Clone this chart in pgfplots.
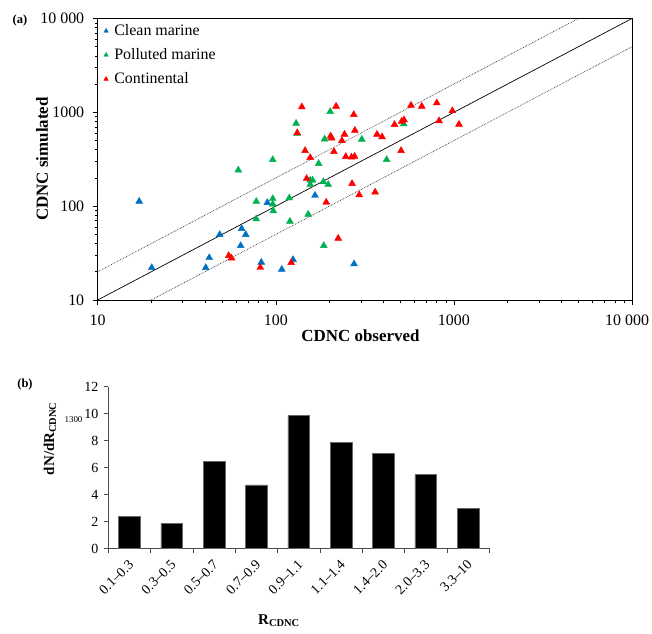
\documentclass[border=0pt]{standalone}
\usepackage{fontspec}
\setmainfont{Liberation Serif}
\usepackage{pgfplots}
\pgfplotsset{compat=1.18}

\definecolor{cleanblue}{HTML}{0070C0}
\definecolor{pollgreen}{HTML}{00B050}
\definecolor{contred}{HTML}{FF0000}

\newcommand{\ticksize}{\fontsize{16}{18}\selectfont}
\newcommand{\bticksize}{\fontsize{14}{16}\selectfont}

\begin{document}
\begin{tikzpicture}[x=1bp,y=1bp]
\path[use as bounding box] (0,0) rectangle (652,634);

% (a) simulated against observed CDNC
\begin{axis}[
  at={(97.7bp,334bp)}, anchor=south west,
  scale only axis, width=534.3bp, height=281.5bp,
  xmode=log, ymode=log,
  xmin=10, xmax=10000, ymin=10, ymax=10000,
  xtick={10,100,1000,10000}, ytick={10,100,1000,10000},
  xticklabels={10,100,1000,\makebox[0pt][r]{10\ 000\hspace{-17bp}}},
  yticklabels={10,100,1000,10\ 000},
  tick pos=left, tick align=outside,
  major tick length=5bp, minor tick length=3bp,
  tick style={black, line width=0.5pt},
  axis line style={black, line width=0.6pt},
  /pgf/number format/assume math mode=true,
  tick label style={font=\ticksize},
  xticklabel style={yshift=-6bp},
  yticklabel style={xshift=-5bp},
  legend style={at={(rel axis cs:0,1)}, anchor=north west, xshift=3bp, yshift=-2bp,
    draw=none, fill=none, font=\ticksize, row sep=7.5bp,
    inner xsep=2bp, inner ysep=2bp},
  legend cell align=left,
  legend image code/.code={\draw[#1, mark size=2.6bp] plot coordinates {(0bp,0bp)};
    \path (-3bp,0bp) (6bp,0bp);},
  clip=false,
]
\addplot[black, line width=0.7pt, forget plot] coordinates {(10,10) (10000,10000)};
\addplot[black!80, densely dotted, line width=0.7pt, forget plot] coordinates {(10,20) (5000,10000)};
\addplot[black!80, densely dotted, line width=0.7pt, forget plot] coordinates {(20,10) (10000,5000)};

\addplot[only marks, mark=triangle*, mark size=4bp, color=cleanblue] coordinates {
(17.1,112.5) (20.1,22.1) (40.4,22.1) (42.3,28.2) (48.4,49.7) (63.5,37.9)
(64.3,57.6) (67.8,49.7) (82.9,25.2) (89.6,109) (108,21.2) (125,26.9)
(166,130) (275,24.2)};
\addlegendentry{Clean marine}

\addplot[only marks, mark=triangle*, mark size=4bp, color=pollgreen] coordinates {
(61.6,242) (77.7,112) (77.7,73.0) (96.1,313) (96.1,120) (96.1,105)
(96.8,89.1) (119,122) (120,68.9) (130,763) (131.5,597) (152,81.8)
(156,189) (161,189) (156,170) (174,284) (185,182) (186,37.9)
(188,518) (197,170) (202,1017) (304,515) (419,313) (523,752)};
\addlegendentry{Polluted marine}

\addplot[only marks, mark=triangle*, mark size=4bp, color=contred] coordinates {
(54.4,29.7) (56.4,27.9) (81.8,22.2) (122,25.0) (132,603) (140,1142)
(146,391) (149,197) (156,329) (192,110) (203,558) (206,531)
(212,381) (218,1159) (224,45.4) (235,499) (243,583) (247,337)
(266,333) (268,174) (274,945) (277,339) (278,641) (294,132)
(361,141) (370,583) (395,547) (464,740) (505,391) (509,802)
(525,830) (574,1187) (660,1159) (801,1260) (825,812) (980,1038)
(1068,745)};
\addlegendentry{Continental}
\end{axis}

% (b) distribution of the ratio
\begin{axis}[
  at={(108.3bp,85.5bp)}, anchor=south west,
  scale only axis, width=381bp, height=161.8bp,
  xmin=-0.5, xmax=8.5, ymin=0, ymax=12,
  axis x line*=bottom, axis y line*=left,
  axis line style={black!70, line width=0.6pt},
  ytick={0,2,...,12},
  xtick={0,...,8},
  xticklabels={0.1--0.3,0.3--0.5,0.5--0.7,0.7--0.9,0.9--1.1,1.1--1.4,1.4--2.0,2.0--3.3,3.3--10},
  minor xtick={-0.5,0.5,...,8.5},
  major x tick style={draw=none},
  tick align=outside,
  major tick length=4.5bp, minor tick length=5bp,
  tick style={black!70, line width=0.6pt},
  /pgf/number format/assume math mode=true,
  tick label style={font=\bticksize},
  xticklabel style={xshift=4bp, yshift=-7bp, rotate=45, anchor=east},
  yticklabel style={xshift=-2bp},
]
\addplot[ybar, fill=black, draw=black!60, bar width=21.7bp] coordinates {
(0,2.39) (1,1.84) (2,6.44) (3,4.71) (4,9.87) (5,7.86) (6,7.04) (7,5.48) (8,2.98)};
\end{axis}

% panel letters and axis titles
\node[font=\bfseries\fontsize{12.5}{14}\selectfont] at (20,613.3) {(a)};
\node[font=\bfseries\fontsize{12.5}{14}\selectfont] at (25,249) {(b)};
\node[font=\bfseries\fontsize{17}{19}\selectfont] at (360.5,298) {CDNC observed};
\node[font=\bfseries\fontsize{17}{19}\selectfont, rotate=90] at (42,475) {CDNC simulated};
\node[font=\bfseries\fontsize{15}{17}\selectfont, rotate=90] at (50,195.5) {dN/dR\textsubscript{CDNC}};
\node[font=\fontsize{9}{10}\selectfont] at (73.5,214) {1300};
\node[font=\bfseries\fontsize{15}{17}\selectfont] at (279,13) {R\textsubscript{CDNC}};
\end{tikzpicture}
\end{document}
